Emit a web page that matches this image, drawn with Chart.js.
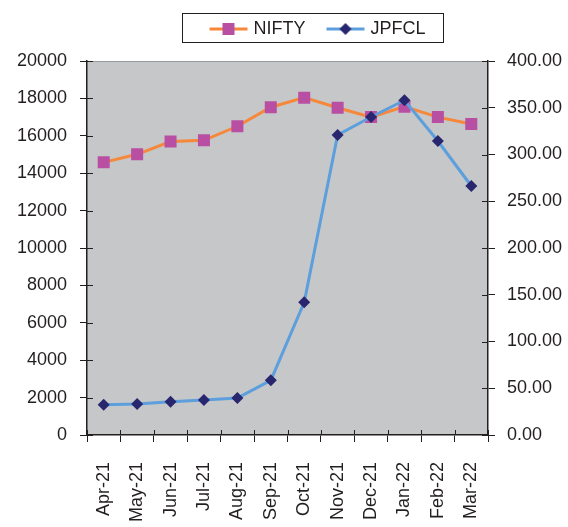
<!DOCTYPE html>
<html>
<head>
<meta charset="utf-8">
<script src="https://cdn.jsdelivr.net/npm/chart.js@4/dist/chart.umd.min.js"></script>
<style>
  html, body { margin: 0; padding: 0; background: #fff; }
  #wrap { width: 568px; height: 527px; }
</style>
</head>
<body>
<div id="wrap"><canvas id="chart" width="568" height="527"></canvas></div>
<script>
const months = ['Apr-21', 'May-21', 'Jun-21', 'Jul-21', 'Aug-21', 'Sep-21',
  'Oct-21', 'Nov-21', 'Dec-21', 'Jan-22', 'Feb-22', 'Mar-22'];
const nifty = [14580, 15010, 15690, 15760, 16510, 17530, 18040, 17500, 17000, 17560, 17000, 16630];
const jpfcl = [32.4, 33.2, 35.6, 37.4, 39.6, 58.5, 141.9, 320.9, 340.1, 358.0, 314.4, 266.3];

const textColor = '#231f20';
const niftyLine = '#f5883a';
const niftyMark = '#b94fa2';
const jpfclLine = '#5c9fdc';
const jpfclMark = '#27266f';

// legend sample: short line with the marker in the middle
function legendSample(lineColor, markColor, shape) {
  const c = document.createElement('canvas');
  c.width = 40; c.height = 16;
  const ctx = c.getContext('2d');
  ctx.strokeStyle = lineColor;
  ctx.lineWidth = 3;
  ctx.beginPath();
  ctx.moveTo(1, 8); ctx.lineTo(39, 8);
  ctx.stroke();
  ctx.fillStyle = markColor;
  ctx.beginPath();
  if (shape === 'rect') {
    ctx.rect(14, 2, 12, 12);
  } else {
    ctx.moveTo(20, 2); ctx.lineTo(26, 8); ctx.lineTo(20, 14); ctx.lineTo(14, 8);
    ctx.closePath();
  }
  ctx.fill();
  return c;
}

const plotFrame = {
  id: 'plotFrame',
  beforeDraw(chart) {
    const a = chart.chartArea;
    const ctx = chart.ctx;
    ctx.save();
    ctx.fillStyle = '#c6c7c9';
    ctx.fillRect(a.left, a.top, a.right - a.left, a.bottom - a.top);
    ctx.strokeStyle = '#9a9b9d';
    ctx.lineWidth = 1;
    ctx.beginPath();
    ctx.moveTo(a.left, a.top + 0.5);
    ctx.lineTo(a.right, a.top + 0.5);
    ctx.stroke();
    ctx.restore();
  },
  afterLayout(chart) {
    // move legend up into the top padding and a bit to the right
    const lg = chart.legend;
    lg.top -= 13; lg.bottom -= 13;
    lg.left += 35; lg.right += 35;
  },
  afterDraw(chart) {
    const ctx = chart.ctx;
    const a = chart.chartArea;
    ctx.save();
    ctx.strokeStyle = '#231f20';
    ctx.lineWidth = 1;
    // inward half of the crossing tick marks
    ctx.beginPath();
    const y = chart.scales.y, y1 = chart.scales.y1;
    y.ticks.forEach((t, i) => {
      const p = Math.round(y.getPixelForTick(i)) + 0.5;
      ctx.moveTo(a.left, p); ctx.lineTo(a.left + 6, p);
    });
    y1.ticks.forEach((t, i) => {
      const p = Math.round(y1.getPixelForTick(i)) + 0.5;
      ctx.moveTo(a.right, p); ctx.lineTo(a.right - 6, p);
    });
    const n = months.length;
    for (let i = 0; i <= n; i++) {
      const p = Math.round(a.left + i * (a.right - a.left) / n) + 0.5;
      ctx.moveTo(p, a.bottom); ctx.lineTo(p, a.bottom - 5);
    }
    ctx.stroke();
    // legend frame
    const hb = chart.legend.legendHitBoxes;
    if (hb && hb.length) {
      const l = hb[0].left - 30;
      const r = hb[hb.length - 1].left + hb[hb.length - 1].width + 18;
      const t = hb[0].top - 7;
      const b = hb[0].top + hb[0].height + 4;
      ctx.strokeStyle = '#231f20';
      ctx.strokeRect(Math.round(l) + 0.5, Math.round(t) + 0.5, Math.round(r - l), Math.round(b - t));
    }
    ctx.restore();
  }
};

new Chart(document.getElementById('chart'), {
  type: 'line',
  data: {
    labels: months,
    datasets: [
      {
        label: 'NIFTY',
        data: nifty,
        yAxisID: 'y',
        order: 1,
        borderColor: niftyLine,
        backgroundColor: niftyMark,
        borderWidth: 3,
        tension: 0,
        fill: false,
        pointStyle: 'rect',
        pointRadius: 8.5,
        pointBorderWidth: 0,
        pointBackgroundColor: niftyMark
      },
      {
        label: 'JPFCL',
        data: jpfcl,
        yAxisID: 'y1',
        order: 0,
        borderColor: jpfclLine,
        backgroundColor: jpfclMark,
        borderWidth: 3,
        tension: 0,
        fill: false,
        pointStyle: 'rectRot',
        pointRadius: 6,
        pointBorderWidth: 0,
        pointBackgroundColor: jpfclMark
      }
    ]
  },
  options: {
    responsive: false,
    animation: false,
    layout: { padding: { top: 9, left: 0, right: 0, bottom: 0 } },
    font: { family: "'Liberation Sans', Arial, sans-serif", size: 18 },
    plugins: {
      tooltip: { enabled: false },
      legend: {
        display: true,
        position: 'top',
        labels: {
          color: textColor,
          font: { family: "'Liberation Sans', Arial, sans-serif", size: 18 },
          padding: 24,
          usePointStyle: true,
          pointStyleWidth: 32,
          generateLabels(chart) {
            return [
              { text: 'NIFTY', datasetIndex: 0, fontColor: textColor, lineWidth: 0,
                pointStyle: legendSample(niftyLine, niftyMark, 'rect') },
              { text: 'JPFCL', datasetIndex: 1, fontColor: textColor, lineWidth: 0,
                pointStyle: legendSample(jpfclLine, jpfclMark, 'diamond') }
            ];
          }
        }
      }
    },
    scales: {
      x: {
        offset: true,
        grid: { offset: true, drawOnChartArea: false, tickLength: 7, color: '#231f20' },
        border: { color: '#231f20', width: 1.5 },
        ticks: {
          color: textColor,
          font: { family: "'Liberation Sans', Arial, sans-serif", size: 18 },
          minRotation: 90,
          maxRotation: 90,
          padding: 20,
          autoSkip: false
        },
        afterFit(scale) { scale.height = 92; }
      },
      y: {
        position: 'left',
        min: 0,
        max: 20000,
        grid: { drawOnChartArea: false, tickLength: 7, color: '#231f20' },
        border: { color: '#231f20', width: 1.5 },
        ticks: {
          stepSize: 2000,
          color: textColor,
          font: { family: "'Liberation Sans', Arial, sans-serif", size: 18 },
          padding: 13,
          callback: v => String(v)
        },
        afterFit(scale) { scale.width = 87; }
      },
      y1: {
        position: 'right',
        min: 0,
        max: 400,
        grid: { drawOnChartArea: false, tickLength: 7, color: '#231f20' },
        border: { color: '#231f20', width: 1.5 },
        ticks: {
          stepSize: 50,
          color: textColor,
          font: { family: "'Liberation Sans', Arial, sans-serif", size: 18 },
          padding: 12,
          callback: v => v.toFixed(2)
        },
        afterFit(scale) { scale.width = 80; }
      }
    }
  },
  plugins: [plotFrame]
});
</script>
</body>
</html>
